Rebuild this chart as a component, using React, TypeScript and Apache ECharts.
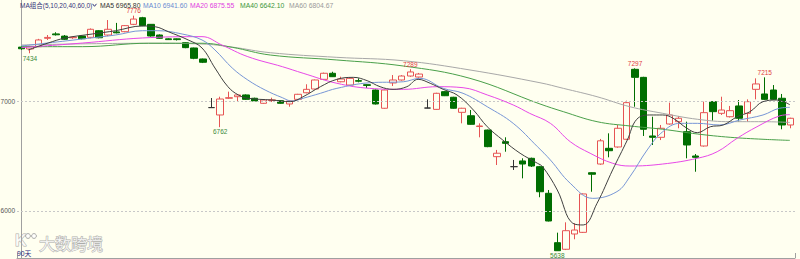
import React, { useEffect, useRef } from 'react';
import * as echarts from 'echarts';

// OHLC (90 trading days)
const opens = [
  7490, 7473, 7494, 7570, 7610, 7590, 7575, 7590, 7579, 7639,
  7600, 7628, 7630, 7697, 7757, 7697, 7600, 7565, 7565, 7530,
  7482, 7382, 6940, 6873, 7025, 7039, 7055, 7025, 6979, 7005,
  7003, 6973, 7015, 7075, 7109, 7197, 7252, 7175, 7145, 7185,
  7148, 7100, 6934, 7164, 7191, 7227, 7218, 6936, 6924, 7085,
  7034, 6897, 6866, 6768, 6736, 6494, 6630, 6403, 6455, 6479,
  6403, 6161, 5712, 5652, 5791, 5806, 6348, 6427, 6570, 6582,
  6652, 7288, 7215, 6682, 6670, 6791, 6812, 6721, 6500, 6591,
  6994, 6888, 6857, 6955, 6888, 7106, 7064, 7100, 7025, 6782,
];
const closes = [
  7475, 7494, 7555, 7578, 7602, 7561, 7580, 7566, 7652, 7575,
  7652, 7620, 7685, 7745, 7685, 7591, 7570, 7558, 7558, 7485,
  7388, 7352, 6940, 7018, 7030, 7055, 7015, 7000, 7009, 7010,
  6979, 7000, 7061, 7106, 7191, 7252, 7221, 7200, 7206, 7180,
  7142, 6973, 7100, 7191, 7227, 7264, 7245, 6936, 7070, 7048,
  6934, 6934, 6788, 6773, 6585, 6525, 6615, 6403, 6427, 6409,
  6175, 5909, 5639, 5821, 5827, 6155, 6334, 6638, 6548, 6752,
  6985, 7215, 6743, 6670, 6752, 6873, 6843, 6600, 6488, 6894,
  6903, 6918, 6912, 6843, 6994, 7155, 7015, 7015, 6782, 6843,
];
const lows = [
  7465, 7434, 7490, 7555, 7595, 7555, 7565, 7560, 7570, 7570,
  7590, 7615, 7625, 7690, 7680, 7585, 7565, 7555, 7550, 7480,
  7380, 7345, 6938, 6762, 7018, 7000, 7010, 6995, 6975, 6991,
  6975, 6948, 7010, 7070, 7105, 7190, 7218, 7170, 7140, 7170,
  7118, 6968, 6930, 7136, 7185, 7220, 7212, 6935, 6920, 7045,
  6930, 6797, 6785, 6670, 6580, 6418, 6539, 6373, 6297, 6400,
  6125, 5905, 5638, 5645, 5743, 5800, 6175, 6420, 6488, 6575,
  6645, 6948, 6682, 6600, 6645, 6785, 6752, 6479, 6357, 6585,
  6821, 6873, 6850, 6812, 6812, 7015, 7010, 7010, 6743, 6752,
];
const highs = [
  7500, 7500, 7565, 7600, 7625, 7600, 7590, 7595, 7660, 7645,
  7736, 7710, 7690, 7776, 7765, 7700, 7605, 7570, 7568, 7535,
  7485, 7385, 7027, 7039, 7085, 7060, 7060, 7030, 7015, 7030,
  7008, 7005, 7065, 7152, 7195, 7258, 7266, 7221, 7212, 7206,
  7150, 7105, 7105, 7236, 7235, 7289, 7255, 7015, 7075, 7090,
  7038, 6938, 6918, 6797, 6740, 6555, 6670, 6464, 6479, 6485,
  6410, 6191, 5803, 5897, 5888, 6160, 6352, 6655, 6706, 6782,
  7003, 7297, 7220, 6857, 6782, 6985, 6864, 6812, 6518, 6994,
  7000, 7039, 6955, 7009, 7015, 7206, 7215, 7145, 7064, 6848,
];
const categories = opens.map((_, i) => `D${i + 1}`);

// Moving-average lines: [day index, value]
const ma5 = [
  [0.8, 7464], [3.1, 7527], [5.1, 7573], [8.2, 7609], [10.9, 7639], [14, 7682], [15.5, 7675],
  [17, 7630], [19.3, 7555], [20.9, 7482], [22.4, 7300], [23.9, 7130], [25.1, 7055], [26.2, 7025],
  [29, 7009], [31.1, 6994], [32.6, 7039], [34.6, 7130], [36.5, 7197], [38.4, 7215], [40, 7185],
  [41.5, 7130], [43, 7106], [44.6, 7130], [45.9, 7197], [47.3, 7161], [48.8, 7106], [50.4, 7055],
  [52.3, 6918], [53.9, 6766], [55.7, 6645], [57.7, 6525], [59.7, 6434], [60.3, 6403], [62, 6191],
  [63.8, 5888], [65, 5873], [66.6, 6070], [68.4, 6373], [70.1, 6645], [71.2, 6834], [72.7, 6873],
  [74.2, 6873], [75.4, 6843], [77, 6752], [78.2, 6712], [79.7, 6766], [81.2, 6782], [82.8, 6857],
  [84.3, 6903], [85.8, 6994], [87.4, 7009], [88.9, 6966],
];
const ma10 = [
  [0, 7500], [7.1, 7564], [10.9, 7600], [14, 7639], [15.8, 7639], [18.6, 7609], [20.9, 7555],
  [22.4, 7464], [24.4, 7300], [26.2, 7191], [28.2, 7100], [30.2, 7030], [31.3, 7000], [32.6, 7025],
  [34.6, 7070], [36.5, 7115], [40.3, 7166], [44.2, 7175], [46.1, 7206], [48.8, 7115], [51.1, 7070],
  [53.9, 6948], [56.9, 6797], [59.7, 6585], [61.2, 6464], [63.5, 6252], [66.1, 6115], [68.9, 6176],
  [70.4, 6312], [72.4, 6555], [74.2, 6721], [76.2, 6797], [78.2, 6797], [80.8, 6782], [83.1, 6827],
  [85.8, 6873], [87.7, 6934], [88.9, 6942],
];
const ma20 = [
  [0, 7485], [7.1, 7527], [14, 7573], [20.9, 7585], [23.2, 7509], [26.2, 7403], [30.2, 7312],
  [32.6, 7252], [36.5, 7161], [40.3, 7115], [44.2, 7106], [48.1, 7130], [51.1, 7121], [53.9, 7055],
  [56.9, 6964], [58.8, 6888], [61.2, 6797], [63.5, 6630], [65.8, 6525], [68.4, 6434], [70.4, 6409],
  [74.2, 6427], [78.2, 6479], [80.5, 6539], [82.8, 6661], [85.1, 6766], [87.7, 6864], [88.9, 6876],
];
const ma40 = [
  [0, 7494], [7.1, 7494], [14.7, 7525], [20.9, 7525], [24.4, 7488], [28.8, 7418], [36.5, 7373],
  [44.2, 7318], [51.9, 7206], [60, 6973], [62.7, 6903], [66.6, 6812], [70.4, 6773], [74.2, 6743],
  [78.2, 6700], [82, 6670], [85.8, 6652], [88.9, 6642],
];
const ma60 = [
  [0, 7509], [14.7, 7525], [20.9, 7518], [24.4, 7490], [28.8, 7439], [36.5, 7397], [44.2, 7366],
  [51.9, 7282], [60, 7166], [62.7, 7115], [66.6, 7039], [70.4, 6948], [74.2, 6888], [78.2, 6834],
  [82, 6812], [85.8, 6812], [88.9, 6805],
];

const highMarks = [[13, 7776], [45, 7289], [71, 7297], [86, 7215]];
const lowMarks = [[1, 7434], [23, 6762], [62, 5638]];
const gridLevels = [7000, 6000];

const legendItems = [
  { text: 'MA5 6965.80', color: '#333333', x: 100 },
  { text: 'MA10 6941.60', color: '#6a8ad0', x: 143 },
  { text: 'MA20 6875.55', color: '#e040e0', x: 190 },
  { text: 'MA40 6642.10', color: '#3c963c', x: 240 },
  { text: 'MA60 6804.67', color: '#9a9a9a', x: 289 },
];

const FONT = '"Liberation Sans", "Noto Sans CJK SC", sans-serif';
const UP = '#e65454';
const DOWN = '#006e00';
const BG = '#fffff0';
const WM_FILL = 'rgba(255,255,255,0.8)';
const WM_STROKE = 'rgba(150,150,150,0.8)';

export default function App() {
  const ref = useRef<HTMLDivElement>(null);
  useEffect(() => {
    const chart = echarts.init(ref.current!, null, { renderer: 'svg' });
    const ohlc = categories.map((_, i) => [opens[i], closes[i], lows[i], highs[i]]);
    const marks = [
      ...highMarks.map(([i, v]) => ({
        coord: [categories[i], v], value: v,
        label: { position: 'top', color: '#e04040', distance: 1 },
      })),
      ...lowMarks.map(([i, v]) => ({
        coord: [categories[i], v], value: v,
        label: { position: 'bottom', color: '#3a8a3a', distance: 1 },
      })),
    ];
    const maLine = (name: string, data: number[][], color: string, z: number) => ({
      type: 'line', name, xAxisIndex: 1, yAxisIndex: 0, data,
      smooth: 0.4, symbol: 'none', silent: true, z,
      lineStyle: { color, width: 1 },
    });
    chart.setOption({
      animation: false,
      backgroundColor: BG,
      grid: { left: 17, right: 5, top: 0, bottom: 1, containLabel: false },
      xAxis: [
        {
          type: 'category', data: categories, boundaryGap: true,
          axisLine: { show: true, lineStyle: { color: '#a0a0a0', width: 1 } },
          axisTick: {
            show: true, inside: true, length: 5,
            interval: (i: number) => i === 89,
            lineStyle: { color: '#a0a0a0' },
          },
          axisLabel: { show: false },
          splitLine: { show: false },
        },
        { type: 'value', min: -0.5, max: 89.5, show: false },
      ],
      yAxis: {
        type: 'value', min: 5572.7, max: 7918.2, scale: true,
        axisLine: { show: true, lineStyle: { color: '#a0a0a0', width: 1 } },
        axisTick: { show: false },
        axisLabel: { show: false },
        splitLine: { show: false },
      },
      series: [
        {
          type: 'candlestick', data: ohlc, barWidth: 7, z: 2,
          itemStyle: {
            color: BG, color0: DOWN, borderColor: UP, borderColor0: DOWN,
            borderColorDoji: '#333333', borderWidth: 1,
          },
          markLine: {
            silent: true, symbol: 'none',
            lineStyle: { color: '#c8c8c8', type: [2, 2], width: 1 },
            label: {
              position: 'start', distance: 2, formatter: '{c}',
              fontSize: 6.5, fontFamily: FONT, color: '#555555',
            },
            data: gridLevels.map((v) => ({ yAxis: v })),
          },
          markPoint: {
            silent: true, symbol: 'rect', symbolSize: 1,
            itemStyle: { color: 'rgba(0,0,0,0)' },
            label: { show: true, fontSize: 6.5, fontFamily: FONT, formatter: '{c}' },
            data: marks,
          },
        },
        maLine('MA60', ma60, '#a8a8a8', 3),
        maLine('MA40', ma40, '#4aa04a', 4),
        maLine('MA20', ma20, '#e848e8', 5),
        maLine('MA10', ma10, '#7796d6', 6),
        maLine('MA5', ma5, '#404040', 7),
      ],
      graphic: [
        {
          type: 'text', x: 20, y: 5, z: 100,
          style: { text: 'MA组合(5,10,20,40,60,0)', fill: '#34347a', fontSize: 6.5, fontFamily: FONT, verticalAlign: 'middle' },
        },
        {
          type: 'polyline', z: 100,
          shape: { points: [[92.5, 3.8], [94.5, 6.3], [96.5, 3.8]] },
          style: { stroke: '#34347a', lineWidth: 1, fill: null },
        },
        ...legendItems.map((it) => ({
          type: 'text', x: it.x, y: 5, z: 100,
          style: { text: it.text, fill: it.color, fontSize: 6.8, fontFamily: FONT, verticalAlign: 'middle' },
        })),
        {
          type: 'text', x: 17, y: 253.5, z: 100,
          style: { text: '90天', fill: '#2a2a80', fontSize: 6.8, fontFamily: FONT, verticalAlign: 'middle' },
        },
        {
          type: 'group', z: 90,
          children: [
            {
              type: 'text', x: 15, y: 240,
              style: { text: 'K', fill: WM_FILL, stroke: WM_STROKE, lineWidth: 1, fontSize: 16, fontWeight: 'bold', fontFamily: FONT, verticalAlign: 'middle' },
            },
            { type: 'circle', shape: { cx: 28, cy: 236, r: 2.4 }, style: { fill: WM_FILL, stroke: WM_STROKE, lineWidth: 1 } },
            { type: 'circle', shape: { cx: 34, cy: 236, r: 2.4 }, style: { fill: WM_FILL, stroke: WM_STROKE, lineWidth: 1 } },
            {
              type: 'text', x: 39, y: 243,
              style: { text: '大数跨境', fill: WM_FILL, stroke: WM_STROKE, lineWidth: 1, fontSize: 16, fontFamily: '"Noto Sans CJK SC", sans-serif', verticalAlign: 'middle' },
            },
          ],
        },
      ],
    });
    return () => chart.dispose();
  }, []);
  return <div ref={ref} style={{ position: 'fixed', left: 0, top: 0, width: 800, height: 259 }} />;
}
